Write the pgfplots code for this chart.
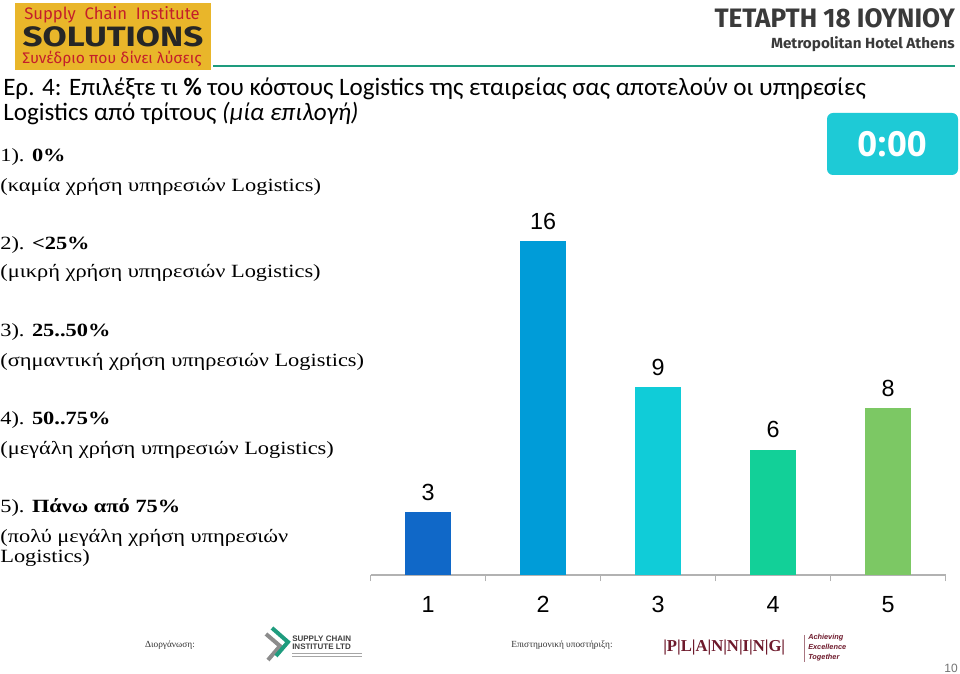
\documentclass[border=0pt]{standalone}
\usepackage{fontspec}
\usepackage{pgfplots}
\pgfplotsset{compat=1.18}
\setmainfont{Liberation Serif}
\newfontfamily\titlefont{Carlito}
\newfontfamily\arial{Liberation Sans}
\newfontfamily\headfont{Fira Sans}
\newfontfamily\timerfont{Open Sans}
\newfontfamily\optfont{Liberation Serif}
\definecolor{c1}{HTML}{1068C8}
\definecolor{c2}{HTML}{009CD8}
\definecolor{c3}{HTML}{10CCD8}
\definecolor{c4}{HTML}{12D098}
\definecolor{c5}{HTML}{7CC864}
\definecolor{timer}{HTML}{1ECAD6}
\definecolor{gold}{HTML}{E9B62A}
\definecolor{logored}{HTML}{C41E2A}
\definecolor{hline}{HTML}{1E9C7E}
\definecolor{planred}{HTML}{6E1A2C}
\definecolor{headgray}{HTML}{3A3A3A}
\begin{document}
\begin{tikzpicture}[x=0.75pt,y=0.75pt]
\useasboundingbox (0,0) rectangle (960,674);
\fill[white] (0,0) rectangle (960,674);
% ---- header logo
\fill[gold] (15,604) rectangle (211,671);
\node[anchor=center,text=logored,font=\headfont\fontsize{12.5}{13}\selectfont,xscale=1.0,inner sep=0pt] at (112,659.5) {Supply\ \ Chain\ \ Institute};
\node[anchor=center,text=black!85,font=\headfont\bfseries\fontsize{21}{22}\selectfont,xscale=1.25,inner sep=0pt] at (113,637.5) {SOLUTIONS};
\node[anchor=center,text=logored,font=\headfont\fontsize{11.5}{12}\selectfont,xscale=1.02,inner sep=0pt] at (112,615) {Συνέδριο που δίνει λύσεις};
% ---- header right
\node[anchor=base east,text=headgray,font=\headfont\bfseries\fontsize{20}{21}\selectfont,xscale=0.98,inner sep=0pt] at (955,646) {ΤΕΤΑΡΤΗ 18 ΙΟΥΝΙΟΥ};
\node[anchor=base east,text=headgray,font=\headfont\bfseries\fontsize{11}{12}\selectfont,xscale=1.04,inner sep=0pt] at (955,625) {Metropolitan Hotel Athens};
\draw[hline,line width=2.2pt] (213,608) -- (955,608);
% ---- title
\node[anchor=base west,inner sep=0pt,font=\titlefont\fontsize{18.8}{20}\selectfont] at (3,578) {Ερ. 4: Επιλέξτε τι \textbf{\%} του κόστους Logistics της εταιρείας σας αποτελούν οι υπηρεσίες};
\node[anchor=base west,inner sep=0pt,font=\titlefont\fontsize{18.8}{20}\selectfont] at (3,553) {Logistics από τρίτους \textit{(μία επιλογή)}};
% ---- timer
\fill[timer,rounded corners=4.5pt] (827,561) rectangle (958,499);
\node[text=white,font=\timerfont\bfseries\fontsize{26}{28}\selectfont] at (892,530) {0:00};
% ---- options
\begin{scope}[every node/.style={anchor=base west,inner sep=0pt,xscale=1.2,font=\optfont\fontsize{14}{15}\selectfont}]
\node at (0,512) {1). \textbf{0\%}};
\node at (0,482) {(καμία χρήση υπηρεσιών Logistics)};
\node at (0,424) {2). \textbf{<25\%}};
\node at (0,396) {(μικρή χρήση υπηρεσιών Logistics)};
\node at (0,337) {3). \textbf{25..50\%}};
\node at (0,307) {(σημαντική χρήση υπηρεσιών Logistics)};
\node at (0,249) {4). \textbf{50..75\%}};
\node at (0,219) {(μεγάλη χρήση υπηρεσιών Logistics)};
\node at (0,161) {5). \textbf{Πάνω από 75\%}};
\node at (0,131) {(πολύ μεγάλη χρήση υπηρεσιών};
\node at (0,111) {Logistics)};
\end{scope}
% ---- chart
\begin{axis}[
  at={(277.875pt,74.25pt)}, anchor=south west,
  scale only axis, width=431.25pt, height=250.5pt,
  xmin=0.5, xmax=5.5, ymin=0, ymax=16,
  axis x line*=bottom, axis y line=none,
  x axis line style={draw=black!30, line width=0.8pt},
  xtick={1,2,3,4,5}, major tick length=0pt,
  minor xtick={0.5,1.5,2.5,3.5,4.5,5.5}, minor tick length=4.5pt,
  tick align=outside, minor tick style={draw=black!30, line width=0.8pt},
  /pgf/number format/assume math mode=true,
  xticklabel style={font=\arial\fontsize{17.5}{20}\selectfont, inner sep=0pt, anchor=base, yshift=-28.5pt},
  ybar, bar width=34.5pt, bar shift=0pt, clip=false,
  nodes near coords,
  nodes near coords style={font=\arial\fontsize{17.5}{20}\selectfont, anchor=south, inner sep=0pt, yshift=8.5pt, text=black},
]
\addplot[fill=c1, draw=none] coordinates {(1,3)};
\addplot[fill=c2, draw=none] coordinates {(2,16)};
\addplot[fill=c3, draw=none] coordinates {(3,9)};
\addplot[fill=c4, draw=none] coordinates {(4,6)};
\addplot[fill=c5, draw=none] coordinates {(5,8)};
\end{axis}
% ---- footer
\node[font=\optfont\fontsize{7}{8}\selectfont,text=black!80] at (170,29) {Διοργάνωση:};
\node[font=\optfont\fontsize{7}{8}\selectfont,text=black!80] at (562,29) {Επιστημονική υποστήριξη:};
% SCI logo
\draw[black!45,line width=3pt] (266,40) -- (280,28) -- (268,14);
\draw[hline,line width=3pt] (272,46) -- (288,32) -- (276,18);
\node[anchor=west,inner sep=0pt,font=\arial\bfseries\fontsize{6}{6}\selectfont,text=black!75] at (292,35) {SUPPLY CHAIN};
\node[anchor=west,inner sep=0pt,font=\arial\bfseries\fontsize{6}{6}\selectfont,text=black!75] at (292,27) {INSTITUTE LTD};
\draw[black!35,line width=0.6pt] (292,21) -- (362,21);
\draw[black!35,line width=0.6pt] (292,18) -- (362,18);
% PLANNING logo
\node[anchor=west,inner sep=0pt,font=\optfont\bfseries\fontsize{12.5}{13}\selectfont,text=planred] at (663,26) {|P|L|A|N|N|I|N|G|};
\draw[planred!60,line width=0.6pt] (804,39) -- (804,12);
\node[anchor=base west,inner sep=0pt,font=\arial\bfseries\itshape\fontsize{5.5}{6}\selectfont,text=planred] at (808,34) {Achieving};
\node[anchor=base west,inner sep=0pt,font=\arial\bfseries\itshape\fontsize{5.5}{6}\selectfont,text=planred] at (808,24) {Excellence};
\node[anchor=base west,inner sep=0pt,font=\arial\bfseries\itshape\fontsize{5.5}{6}\selectfont,text=planred] at (808,14) {Together};
\node[anchor=east,inner sep=0pt,font=\arial\fontsize{9}{10}\selectfont,text=black!55] at (958,6) {10};
\end{tikzpicture}
\end{document}
